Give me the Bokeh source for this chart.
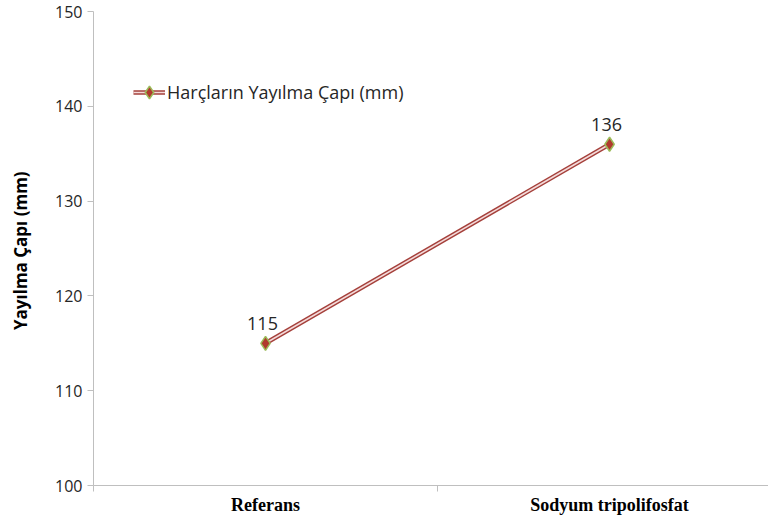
from bokeh.plotting import figure
from bokeh.models import Range1d, FixedTicker, ColumnDataSource, Legend, LegendItem
from bokeh.core.properties import value
from bokeh.embed import file_html
from bokeh.resources import INLINE

categories = ["Referans", "Sodyum tripolifosfat"]
values = [115, 136]
series_name = "Harçların Yayılma Çapı (mm)"
y_ticks = [100, 110, 120, 130, 140, 150]

xs = [i + 0.5 for i in range(len(categories))]
src = ColumnDataSource(dict(x=xs, y=values, lbl=[str(v) for v in values]))

p = figure(width=768, height=517, output_backend="svg", toolbar_location=None,
           x_range=Range1d(0, 1.962), y_range=Range1d(100, 150),
           min_border_left=93, min_border_right=0, min_border_top=11, min_border_bottom=31)
p.outline_line_color = None
p.xgrid.visible = False
p.ygrid.visible = False

outer = p.line("x", "y", source=src, line_color="#a5403b", line_width=4.5)
inner = p.line("x", "y", source=src, line_color="#f4dada", line_width=1.6)
mk = p.scatter("x", "y", source=src, marker="diamond", size=14,
               fill_color="#b03a2e", line_color="#9bbb59", line_width=1.5)
p.text("x", "y", text="lbl", source=src, y_offset=-13, x_offset=-3, text_align="center",
       text_baseline="bottom", text_font=value("Open Sans"), text_font_size="18px",
       text_color="#262626")

# axes
p.yaxis.ticker = FixedTicker(ticks=y_ticks)
p.yaxis.axis_line_color = "#bfbfbf"
p.yaxis.major_tick_line_color = "#bfbfbf"
p.yaxis.major_tick_out = 6
p.yaxis.major_tick_in = 0
p.yaxis.minor_tick_line_color = None
p.yaxis.major_label_text_font = "Open Sans"
p.yaxis.major_label_text_font_size = "16px"
p.yaxis.major_label_text_color = "#262626"
p.yaxis.major_label_standoff = 5
p.yaxis.axis_label = "Yayılma Çapı  (mm)"
p.yaxis.axis_label_text_font = "Open Sans"
p.yaxis.axis_label_text_font_style = "bold"
p.yaxis.axis_label_text_font_size = "17px"
p.yaxis.axis_label_text_color = "#000000"
p.yaxis.axis_label_standoff = 20

p.xaxis.ticker = FixedTicker(ticks=xs, minor_ticks=[0, 1])
p.xaxis.major_label_overrides = {x: c for x, c in zip(xs, categories)}
p.xaxis.axis_line_color = "#bfbfbf"
p.xaxis.major_tick_line_color = None
p.xaxis.minor_tick_line_color = "#bfbfbf"
p.xaxis.minor_tick_out = 6
p.xaxis.minor_tick_in = 0
p.xaxis.major_label_text_font = "Liberation Serif"
p.xaxis.major_label_text_font_style = "bold"
p.xaxis.major_label_text_font_size = "18px"
p.xaxis.major_label_text_color = "#000000"
p.xaxis.major_label_standoff = 3

legend = Legend(items=[LegendItem(label=series_name, renderers=[outer, inner, mk])],
                location=(40, 377), background_fill_alpha=0, border_line_color=None,
                label_text_font="Open Sans", label_text_font_size="18px",
                label_text_color="#262626", glyph_width=32, glyph_height=32, padding=0, spacing=0,
                label_standoff=2, margin=0)
p.add_layout(legend)

open("out.html", "w").write(file_html(p, INLINE))
